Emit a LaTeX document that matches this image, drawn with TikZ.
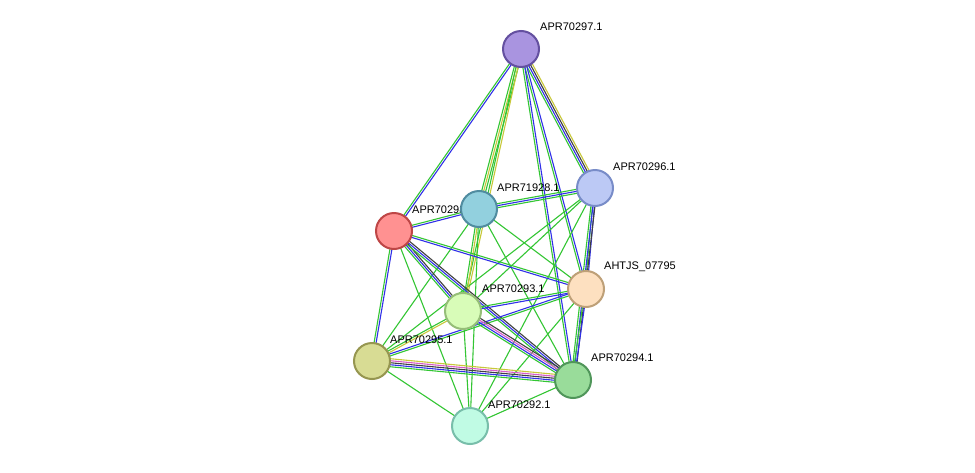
\documentclass[tikz,border=0pt]{standalone}
\usepackage{fontspec}
\setmainfont{Liberation Sans}
\usetikzlibrary{calc}
\definecolor{eg}{HTML}{33C633}
\definecolor{eb}{HTML}{3030E8}
\definecolor{ey}{HTML}{C8C83A}
\definecolor{ep}{HTML}{D85AC8}
\definecolor{ek}{HTML}{404040}
\newcommand\ed[3]{\foreach \c/\o in {#3}{\draw[\c,line width=1.1pt] ($(#1)!\o pt!90:(#2)$) -- ($(#2)!\o pt!-90:(#1)$);}}
\tikzset{prot/.style={circle,minimum size=36pt,inner sep=0pt,line width=2pt},
lab/.style={anchor=west,font=\fontsize{11}{12}\selectfont,inner sep=0pt}}
\begin{document}
\begin{tikzpicture}[x=1pt,y=-1pt]
\useasboundingbox[fill=white] (0,0) rectangle (975,472);
\coordinate (p297) at (521,49);
\coordinate (p296) at (595,188);
\coordinate (p928) at (479,209);
\coordinate (p298) at (394,231);
\coordinate (pah) at (586,289);
\coordinate (p293) at (463,311);
\coordinate (p295) at (372,361);
\coordinate (p294) at (573,380);
\coordinate (p292) at (470,426);
\ed{p297}{p298}{eg/-1,eb/1}
\ed{p297}{p928}{eg/-2,ey/0,eg/2}
\ed{p297}{p296}{eg/-3,eb/-1,ek/1,ey/3}
\ed{p297}{pah}{eg/-1,eb/1}
\ed{p297}{p293}{eg/-1,ey/1}
\ed{p297}{p294}{eg/-1,eb/1}
\ed{p296}{p928}{eg/-2,eb/0,eg/2}
\ed{p296}{pah}{eg/-1,eb/1}
\ed{p296}{p294}{eg/-2,eb/0,ek/2}
\ed{p296}{p293}{eg/0}
\ed{p296}{p295}{eg/0}
\ed{p296}{p292}{eg/0}
\ed{p928}{p298}{eg/-1,eb/1}
\ed{p928}{p293}{eg/-1,ey/1}
\ed{p928}{p295}{eg/0}
\ed{p928}{pah}{eg/0}
\ed{p928}{p294}{eg/0}
\ed{p928}{p292}{eg/0}
\ed{p298}{pah}{eb/-1,eg/1}
\ed{p298}{p293}{eg/-2,eb/0,ek/2}
\ed{p298}{p294}{eg/-2,eb/0,ek/2}
\ed{p298}{p295}{eg/-1,eb/1}
\ed{p298}{p292}{eg/0}
\ed{pah}{p293}{eg/-1,eb/1}
\ed{pah}{p294}{eg/-1,eb/1}
\ed{pah}{p295}{eb/-1,eg/1}
\ed{pah}{p292}{eg/0}
\ed{p293}{p295}{eg/-1,ey/1}
\ed{p293}{p294}{eg/-3,eb/-1,ep/1,ek/3}
\ed{p293}{p292}{eg/0}
\ed{p295}{p294}{eg/-4,eb/-2,ek/0,ep/2,ey/4}
\ed{p295}{p292}{eg/0}
\ed{p294}{p292}{eg/0}
\node[lab] (l298) at (412,210) {APR70298.1};
\node[prot,draw={rgb,255:red,100;green,80;blue,160},fill={rgb,255:red,169;green,148;blue,224}] (n297) at (p297) {};
\node[prot,draw={rgb,255:red,120;green,140;blue,200},fill={rgb,255:red,188;green,201;blue,245}] (n296) at (p296) {};
\node[prot,draw={rgb,255:red,190;green,70;blue,70},fill={rgb,255:red,255;green,145;blue,145}] (n298) at (p298) {};
\node[prot,draw={rgb,255:red,80;green,140;blue,160},fill={rgb,255:red,146;green,208;blue,222}] (n928) at (p928) {};
\node[prot,draw={rgb,255:red,190;green,160;blue,120},fill={rgb,255:red,253;green,224;blue,192}] (nah) at (pah) {};
\node[prot,draw={rgb,255:red,150;green,190;blue,120},fill={rgb,255:red,216;green,252;blue,184}] (n293) at (p293) {};
\node[prot,draw={rgb,255:red,150;green,150;blue,80},fill={rgb,255:red,216;green,220;blue,148}] (n295) at (p295) {};
\node[prot,draw={rgb,255:red,80;green,150;blue,90},fill={rgb,255:red,153;green,220;blue,154}] (n294) at (p294) {};
\node[prot,draw={rgb,255:red,120;green,190;blue,170},fill={rgb,255:red,192;green,251;blue,228}] (n292) at (p292) {};
\node[lab] (l297) at (540,27) {APR70297.1};
\node[lab] (l296) at (613,167) {APR70296.1};
\node[lab] (l928) at (497,188) {APR71928.1};
\node[lab] (lah) at (604,267) {AHTJS\_07795};
\node[lab] (l293) at (482,289) {APR70293.1};
\node[lab] (l295) at (390,340) {APR70295.1};
\node[lab] (l294) at (591,358) {APR70294.1};
\node[lab] (l292) at (488,405) {APR70292.1};
\end{tikzpicture}
\end{document}
